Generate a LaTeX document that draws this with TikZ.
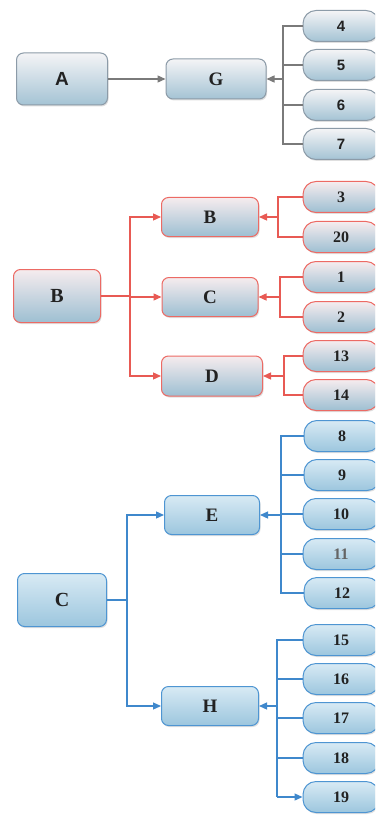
\documentclass[tikz,border=0pt]{standalone}
\usepackage{fontspec}
\setmainfont{Liberation Serif}
\newfontfamily\sansb{Liberation Sans}
\usetikzlibrary{arrows.meta,shadows}
\definecolor{gtop}{HTML}{F4F4F6}
\definecolor{gbot}{HTML}{A4C3D4}
\definecolor{gbord}{HTML}{8C9BA8}
\definecolor{rtop}{HTML}{F6ECEE}
\definecolor{rbot}{HTML}{9DBFD2}
\definecolor{rbord}{HTML}{EC6A64}
\definecolor{btop}{HTML}{D8EAF4}
\definecolor{bbot}{HTML}{9CC6DE}
\definecolor{bbord}{HTML}{4E95D2}
\definecolor{gline}{HTML}{7A7A7A}
\definecolor{rline}{HTML}{E85A54}
\definecolor{bline}{HTML}{3F88CC}
\definecolor{txt}{HTML}{222222}
\begin{document}
\begin{tikzpicture}[x=1pt,y=-1pt,
  base/.style={rectangle, rounded corners=7pt, inner sep=0pt, text=txt, line width=1pt,
    drop shadow={shadow xshift=1pt,shadow yshift=-1.5pt,opacity=0.25}},
  gN/.style={base, draw=gbord, top color=gtop, bottom color=gbot},
  rN/.style={base, draw=rbord, top color=rtop, bottom color=rbot},
  bN/.style={base, draw=bbord, top color=btop, bottom color=bbot},
  big/.style={minimum width=#1, minimum height=52pt, font=\bfseries\fontsize{20}{20}\selectfont},
  mid/.style={minimum width=#1, minimum height=39pt, font=\bfseries\fontsize{19}{19}\selectfont},
  small/.style={minimum width=76pt, minimum height=31pt, rounded corners=13pt, font=\bfseries\fontsize{16}{16}\selectfont},
  sansf/.style={font=\sansb\bfseries\fontsize{#1}{#1}\selectfont},
  gL/.style={draw=gline, line width=1.3pt},
  rL/.style={draw=rline, line width=1.3pt},
  bL/.style={draw=bline, line width=1.3pt},
  tip/.style={-{Triangle[length=8pt,width=7pt]}}
]
\useasboundingbox (0,0) rectangle (375,818);
\clip (0,0) rectangle (375,818);
\fill[white] (0,0) rectangle (375,818);

% ---------- section A ----------
\node[gN, big=91pt, sansf=19] (A) at (62,79) {A};
\node[gN, mid=100pt, minimum height=40pt] (G) at (216,79) {G};
\node[gN, small, sansf=15] (n4) at (341,26) {4};
\node[gN, small, sansf=15] (n5) at (341,65) {5};
\node[gN, small, sansf=15] (n6) at (341,105) {6};
\node[gN, small, sansf=15] (n7) at (341,144) {7};
\coordinate (jG) at (283,79);
\draw[gL, tip] (A.east) -- (G.west);
\draw[gL] (n4.west) -- (n4.west -| jG) -- (n7.west -| jG) -- (n7.west);
\draw[gL] (n5.west) -- (n5.west -| jG);
\draw[gL] (n6.west) -- (n6.west -| jG);
\draw[gL, tip] (jG) -- (G.east);

% ---------- section B ----------
\node[rN, big=87pt, minimum height=53pt] (Bb) at (57,296) {B};
\node[rN, mid=97pt] (Bs) at (210,217) {B};
\node[rN, mid=96pt] (Cs) at (210,297) {C};
\node[rN, mid=101pt, minimum height=40pt] (Ds) at (212,376) {D};
\node[rN, small] (n3) at (341,197) {3};
\node[rN, small] (n20) at (341,237) {20};
\node[rN, small] (n1) at (341,277) {1};
\node[rN, small] (n2) at (341,317) {2};
\node[rN, small] (n13) at (341,356) {13};
\node[rN, small] (n14) at (341,395) {14};
\coordinate (jB) at (130,296);
\draw[rL] (Bb.east) -- (jB);
\draw[rL, tip] (jB |- Cs.west) -- (Cs.west);
\draw[rL, tip] (jB) |- (Bs.west);
\draw[rL, tip] (jB) |- (Ds.west);
\coordinate (jBs) at (278,217);
\coordinate (jCs) at (280,297);
\coordinate (jDs) at (284,376);
\draw[rL] (n3.west) -- (n3.west -| jBs) -- (n20.west -| jBs) -- (n20.west);
\draw[rL, tip] (jBs) -- (Bs.east);
\draw[rL] (n1.west) -- (n1.west -| jCs) -- (n2.west -| jCs) -- (n2.west);
\draw[rL, tip] (jCs) -- (Cs.east);
\draw[rL] (n13.west) -- (n13.west -| jDs) -- (n14.west -| jDs) -- (n14.west);
\draw[rL, tip] (jDs) -- (Ds.east);

% ---------- section C ----------
\node[bN, big=89pt, minimum height=53pt] (Cb) at (62,600) {C};
\node[bN, mid=95pt] (E) at (212,515) {E};
\node[bN, mid=97pt] (H) at (210,706) {H};
\node[bN, small] (n8) at (342,436) {8};
\node[bN, small] (n9) at (342,475) {9};
\node[bN, small] (n10) at (341,514) {10};
\node[bN, small, text=txt!70] (n11) at (341,554) {11};
\node[bN, small] (n12) at (342,593) {12};
\node[bN, small] (n15) at (341,640) {15};
\node[bN, small] (n16) at (341,679) {16};
\node[bN, small] (n17) at (341,718) {17};
\node[bN, small] (n18) at (341,758) {18};
\node[bN, small] (n19) at (341,797) {19};
\coordinate (jC) at (127,600);
\draw[bL] (Cb.east) -- (jC);
\draw[bL, tip] (jC) |- (E.west);
\draw[bL, tip] (jC) |- (H.west);
\coordinate (jE) at (281,515);
\draw[bL] (n8.west) -- (n8.west -| jE) -- (n12.west -| jE) -- (n12.west);
\draw[bL] (n9.west) -- (n9.west -| jE);
\draw[bL] (n10.west) -- (n10.west -| jE);
\draw[bL] (n11.west) -- (n11.west -| jE);
\draw[bL, tip] (jE) -- (E.east);
\coordinate (jH) at (277,706);
\draw[bL] (n15.west) -- (n15.west -| jH) -- (n19.west -| jH);
\draw[bL, tip] (n19.west -| jH) -- (n19.west);
\draw[bL] (n16.west) -- (n16.west -| jH);
\draw[bL] (n17.west) -- (n17.west -| jH);
\draw[bL] (n18.west) -- (n18.west -| jH);
\draw[bL, tip] (jH) -- (H.east);
\end{tikzpicture}
\end{document}
